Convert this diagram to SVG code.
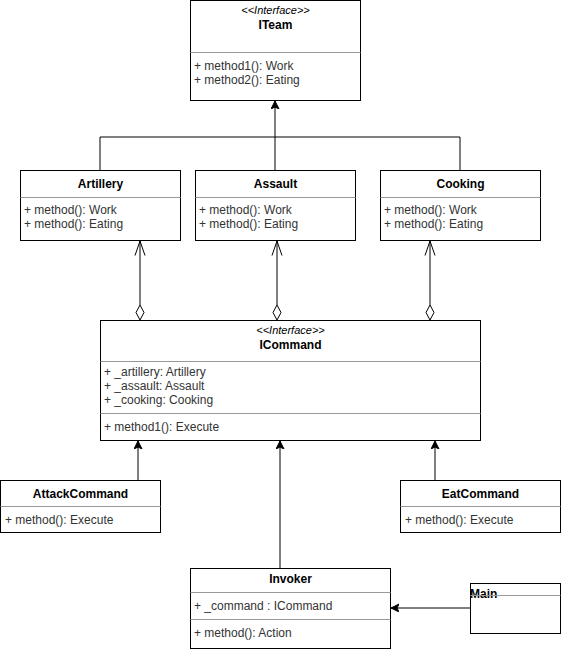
<svg xmlns="http://www.w3.org/2000/svg" width="561" height="649" viewBox="0 0 561 649">
<style>
.box{fill:#fff;stroke:#000;stroke-width:1}
.div{stroke:#999;stroke-width:1}
.t{font-family:"Liberation Sans",Arial,sans-serif;font-size:12px;fill:#000}
.b{font-weight:bold;text-anchor:middle}
.st{font-style:italic;font-size:11px;text-anchor:middle}
.m{fill:#333}
.ln{fill:none;stroke:#000;stroke-width:1}
</style>
<defs>
<marker id="tri" markerWidth="10" markerHeight="10" refX="8" refY="4" orient="auto" markerUnits="userSpaceOnUse">
<path d="M0,0 L8,4 L0,8 L2,4 Z" fill="#000" stroke="#000"/>
</marker>
<marker id="open" markerWidth="16" markerHeight="12" refX="14.5" refY="6" orient="auto" markerUnits="userSpaceOnUse">
<path d="M0,1 L14.5,6 L0,11" fill="none" stroke="#000"/>
</marker>
</defs>
<rect width="561" height="649" fill="#fff"/>
<g id="connectors">
<path class="ln" d="M100,170 V137 H460 V170 M275,170 V137 M275,137 V101" marker-end="url(#tri)"/>
<path class="ln" d="M140,305 V241" marker-end="url(#open)"/>
<path class="ln" d="M277,305 V241" marker-end="url(#open)"/>
<path class="ln" d="M430,305 V241" marker-end="url(#open)"/>
<path d="M140,305 L144,312.5 L140,320 L136,312.5 Z" fill="#fff" stroke="#000"/>
<path d="M277,305 L281,312.5 L277,320 L273,312.5 Z" fill="#fff" stroke="#000"/>
<path d="M430,305 L434,312.5 L430,320 L426,312.5 Z" fill="#fff" stroke="#000"/>
<path class="ln" d="M138,480 V441" marker-end="url(#tri)"/>
<path class="ln" d="M435,480 V441" marker-end="url(#tri)"/>
<path class="ln" d="M280,568 V441" marker-end="url(#tri)"/>
<path class="ln" d="M470,608 H391" marker-end="url(#tri)"/>
</g>
<g id="ITeam">
<rect class="box" x="190.5" y="0.5" width="170" height="100"/>
<line class="div" x1="190.5" y1="52.5" x2="360.5" y2="52.5"/>
<text class="t st" x="275.5" y="14">&lt;&lt;Interface&gt;&gt;</text>
<text class="t b" x="275.5" y="29">ITeam</text>
<text class="t m" x="194" y="70">+ method1(): Work</text>
<text class="t m" x="194" y="84">+ method2(): Eating</text>
</g>
<g id="Artillery">
<rect class="box" x="20.5" y="170.5" width="160" height="70"/>
<line class="div" x1="20.5" y1="197.5" x2="180.5" y2="197.5"/>
<text class="t b" x="100.5" y="188">Artillery</text>
<text class="t m" x="24" y="214">+ method(): Work</text>
<text class="t m" x="24" y="228">+ method(): Eating</text>
</g>
<g id="Assault">
<rect class="box" x="195.5" y="170.5" width="160" height="70"/>
<line class="div" x1="195.5" y1="197.5" x2="355.5" y2="197.5"/>
<text class="t b" x="275.5" y="188">Assault</text>
<text class="t m" x="199" y="214">+ method(): Work</text>
<text class="t m" x="199" y="228">+ method(): Eating</text>
</g>
<g id="Cooking">
<rect class="box" x="380.5" y="170.5" width="160" height="70"/>
<line class="div" x1="380.5" y1="197.5" x2="540.5" y2="197.5"/>
<text class="t b" x="460.5" y="188">Cooking</text>
<text class="t m" x="384" y="214">+ method(): Work</text>
<text class="t m" x="384" y="228">+ method(): Eating</text>
</g>
<g id="ICommand">
<rect class="box" x="100.5" y="320.5" width="380" height="120"/>
<line class="div" x1="100.5" y1="361.5" x2="480.5" y2="361.5"/>
<line class="div" x1="100.5" y1="413.5" x2="480.5" y2="413.5"/>
<text class="t st" x="290.5" y="334">&lt;&lt;Interface&gt;&gt;</text>
<text class="t b" x="290.5" y="349">ICommand</text>
<text class="t m" x="104" y="376">+ _artillery: Artillery</text>
<text class="t m" x="104" y="390">+ _assault: Assault</text>
<text class="t m" x="104" y="404">+ _cooking: Cooking</text>
<text class="t m" x="104" y="431">+ method1(): Execute</text>
</g>
<g id="AttackCommand">
<rect class="box" x="0.5" y="480.5" width="160" height="52"/>
<line class="div" x1="0.5" y1="506.5" x2="160.5" y2="506.5"/>
<text class="t b" x="80.5" y="498">AttackCommand</text>
<text class="t m" x="5" y="524">+ method(): Execute</text>
</g>
<g id="EatCommand">
<rect class="box" x="400.5" y="480.5" width="160" height="52"/>
<line class="div" x1="400.5" y1="506.5" x2="560.5" y2="506.5"/>
<text class="t b" x="480.5" y="498">EatCommand</text>
<text class="t m" x="405" y="524">+ method(): Execute</text>
</g>
<g id="Invoker">
<rect class="box" x="190.5" y="568.5" width="200" height="80"/>
<line class="div" x1="190.5" y1="592.5" x2="390.5" y2="592.5"/>
<line class="div" x1="190.5" y1="619.5" x2="390.5" y2="619.5"/>
<text class="t b" x="290.5" y="583">Invoker</text>
<text class="t m" x="194" y="610">+ _command : ICommand</text>
<text class="t m" x="194" y="637">+ method(): Action</text>
</g>
<g id="Main">
<rect class="box" x="470.5" y="583.5" width="90" height="50"/>
<text class="t" x="470" y="598" font-weight="bold">Main</text>
<line class="div" x1="470.5" y1="595.5" x2="560.5" y2="595.5"/>
</g>
</svg>
